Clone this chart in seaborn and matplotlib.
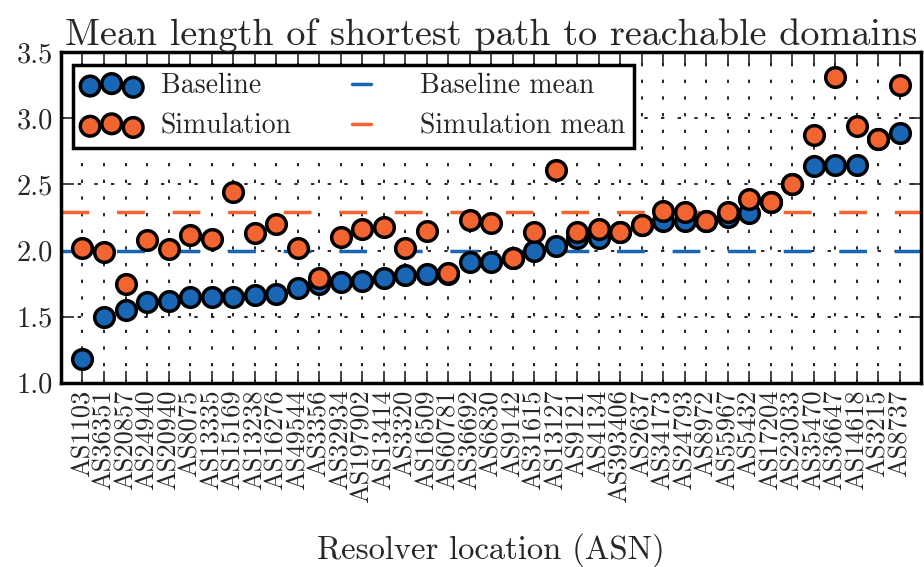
import numpy as np
import pandas as pd
import matplotlib
matplotlib.use('Agg')
import matplotlib.pyplot as plt
import seaborn as sns

asns = ['AS1103', 'AS36351', 'AS20857', 'AS24940', 'AS20940', 'AS8075', 'AS13335',
        'AS15169', 'AS13238', 'AS16276', 'AS49544', 'AS3356', 'AS32934', 'AS197902',
        'AS13414', 'AS3320', 'AS16509', 'AS60781', 'AS36692', 'AS6830', 'AS9142',
        'AS31615', 'AS13127', 'AS9121', 'AS4134', 'AS393406', 'AS2637', 'AS34173',
        'AS24793', 'AS8972', 'AS55967', 'AS5432', 'AS17204', 'AS23033', 'AS35470',
        'AS36647', 'AS14618', 'AS3215', 'AS8737']

baseline = [1.18, 1.50, 1.55, 1.61, 1.62, 1.645, 1.645, 1.65, 1.66, 1.67, 1.715, 1.745,
            1.76, 1.77, 1.79, 1.815, 1.82, 1.825, 1.91, 1.91, 1.94, 2.00, 2.035, 2.095,
            2.095, 2.14, 2.19, 2.22, 2.22, 2.22, 2.25, 2.28, 2.37, 2.50, 2.64, 2.65,
            2.65, 2.84, 2.885]

simulation = [2.02, 1.99, 1.75, 2.08, 2.01, 2.115, 2.09, 2.445, 2.135, 2.20, 2.02, 1.79,
              2.10, 2.165, 2.18, 2.02, 2.15, 1.83, 2.23, 2.21, 1.94, 2.14, 2.61, 2.14,
              2.16, 2.14, 2.19, 2.30, 2.29, 2.22, 2.29, 2.39, 2.37, 2.50, 2.875, 3.31,
              2.94, 2.84, 3.255]

baseline_mean = 2.0
simulation_mean = 2.29

blue = '#1866b4'
orange = '#f26430'

sns.set_style('ticks')
plt.rcParams['font.family'] = ['cmr10', 'DejaVu Serif']
plt.rcParams['axes.formatter.use_mathtext'] = True
plt.rcParams['mathtext.fontset'] = 'cm'

df = pd.DataFrame({'asn': asns, 'baseline': baseline, 'simulation': simulation})

fig, ax = plt.subplots(figsize=(9.24, 5.67), dpi=100)
fig.subplots_adjust(left=0.066, right=0.997, top=0.908, bottom=0.325)

ax.grid(True, color='black', linestyle=(0, (2, 8)), linewidth=1.2)
ax.set_axisbelow(True)

sns.scatterplot(data=df, x='asn', y='baseline', ax=ax, color=blue, s=200,
                edgecolor='black', linewidth=2.5, label='Baseline', zorder=3)
sns.scatterplot(data=df, x='asn', y='simulation', ax=ax, color=orange, s=200,
                edgecolor='black', linewidth=2.5, label='Simulation', zorder=3)

ax.axhline(baseline_mean, color=blue, linestyle=(0, (8, 8)), linewidth=2.5,
           label='Baseline mean', zorder=2)
ax.axhline(simulation_mean, color=orange, linestyle=(0, (8, 8)), linewidth=2.5,
           label='Simulation mean', zorder=2)

ax.set_xlim(-1, 39)
ax.set_ylim(1.0, 3.5)
ax.set_yticks([1.0, 1.5, 2.0, 2.5, 3.0, 3.5])
ax.set_yticklabels(['1.0', '1.5', '2.0', '2.5', '3.0', '3.5'])
ax.tick_params(axis='both', direction='in', length=9, width=1.2, top=True,
               right=True, pad=6)
ax.tick_params(axis='y', labelsize=20.5)
ax.tick_params(axis='x', rotation=90, pad=5, labelsize=19)
for sp in ax.spines.values():
    sp.set_linewidth(2.5)
    sp.set_color('black')

ax.set_title('Mean length of shortest path to reachable domains', fontsize=27.5, pad=5)
ax.set_xlabel('Resolver location (ASN)', fontsize=23.5, labelpad=21)
ax.set_ylabel('')

leg = ax.legend(loc='upper left', ncol=2, scatterpoints=3, fontsize=20,
                handlelength=2.15, handletextpad=0.7, columnspacing=1.75,
                borderpad=0.3, labelspacing=0.5, borderaxespad=0.45,
                fancybox=False, framealpha=1, edgecolor='black')
leg.get_frame().set_linewidth(2.5)
# the mean handles show as one short dash
for line in leg.get_lines():
    xd = np.asarray(line.get_xdata(), dtype=float)
    yd = np.asarray(line.get_ydata(), dtype=float)
    line.set_data([xd[0] + 8, xd[0] + 22], [yd[0], yd[0]])
    line.set_linestyle('-')

plt.savefig('out.png', dpi=100)
